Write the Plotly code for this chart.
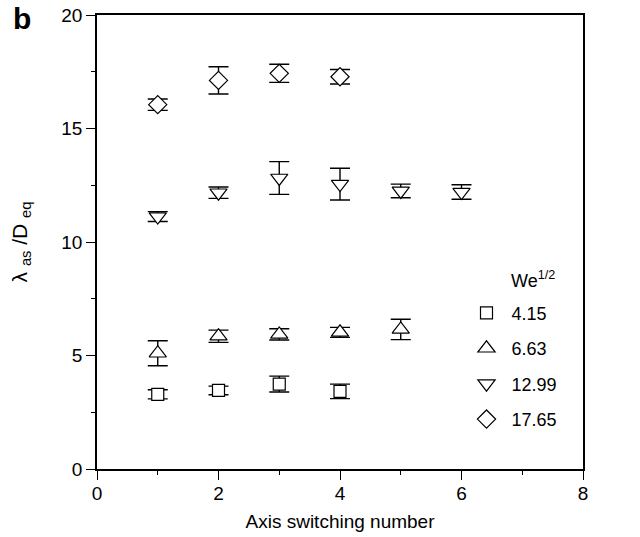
import plotly.graph_objects as go

# Data
we_labels = ["4.15", "6.63", "12.99", "17.65"]

x_sq = [1, 2, 3, 4]
y_sq = [3.29, 3.46, 3.74, 3.42]
e_sq = [0.20, 0.19, 0.35, 0.32]

x_up = [1, 2, 3, 4, 5]
y_up = [5.10, 5.85, 5.93, 6.02, 6.15]
e_up = [0.55, 0.27, 0.25, 0.22, 0.45]

x_dn = [1, 2, 3, 4, 5, 6]
y_dn = [11.12, 12.17, 12.82, 12.55, 12.25, 12.20]
e_dn = [0.22, 0.25, 0.72, 0.70, 0.30, 0.32]

x_di = [1, 2, 3, 4]
y_di = [16.05, 17.12, 17.43, 17.28]
e_di = [0.25, 0.60, 0.40, 0.32]

series = [
    (we_labels[0], x_sq, y_sq, e_sq, "square", 12),
    (we_labels[1], x_up, y_up, e_up, "triangle-up", 15),
    (we_labels[2], x_dn, y_dn, e_dn, "triangle-down", 15),
    (we_labels[3], x_di, y_di, e_di, "diamond", 14),
]

FONT = "Liberation Sans, Arial, Helvetica, sans-serif"

fig = go.Figure()
for i, (name, xs, ys, es, sym, sz) in enumerate(series):
    fig.add_trace(go.Scatter(
        x=xs, y=ys, mode="markers", name=name, legendgroup=f"g{i}",
        marker=dict(symbol=sym, size=sz, color="white",
                    line=dict(color="black", width=1.2)),
        error_y=dict(type="data", array=es, visible=True, color="black",
                     thickness=1.4, width=10),
    ))

fig.update_layout(
    width=640, height=537,
    margin=dict(l=97, r=57, t=15, b=68),
    paper_bgcolor="white", plot_bgcolor="white",
    font=dict(family=FONT, size=19, color="black"),
    showlegend=True,
    legend=dict(x=0.75, y=0.384, xanchor="left", yanchor="top",
                bgcolor="rgba(0,0,0,0)", tracegroupgap=9,
                itemwidth=40, font=dict(size=18)),
    xaxis=dict(range=[0, 8], dtick=2, tick0=0, showline=True, linecolor="black",
               linewidth=1.5, mirror=True, showgrid=False, zeroline=False,
               automargin=False,
               ticks="outside", ticklen=9, tickwidth=1.3, tickcolor="black",
               tickfont=dict(size=19), ticklabelstandoff=-3,
               minor=dict(dtick=1, tick0=0, ticks="outside", ticklen=4,
                          tickwidth=1.3, tickcolor="black", showgrid=False),
               title=dict(text="Axis switching number", standoff=12,
                          font=dict(size=19))),
    yaxis=dict(range=[0, 20], dtick=5, tick0=0, showline=True, linecolor="black",
               linewidth=1.5, mirror=True, showgrid=False, zeroline=False,
               automargin=False,
               ticks="outside", ticklen=9, tickwidth=1.3, tickcolor="black",
               tickfont=dict(size=19),
               minor=dict(dtick=2.5, tick0=0, ticks="outside", ticklen=4,
                          tickwidth=1.3, tickcolor="black", showgrid=False),
               title=dict(text="λ <sub>as</sub> /D <sub>eq</sub>", standoff=28,
                          font=dict(size=21))),
    annotations=[
        dict(text="We<sup>1/2</sup>", xref="paper", yref="paper",
             x=(509 - 97) / 486, y=(469 - 279) / 454, xanchor="left",
             yanchor="middle", showarrow=False, font=dict(size=18)),
        dict(text="<b>b</b>", xref="paper", yref="paper",
             x=(11 - 97) / 486, y=(469 - 19) / 454, xanchor="left",
             yanchor="middle", showarrow=False, font=dict(size=30)),
    ],
)

fig.write_html("out.html")
